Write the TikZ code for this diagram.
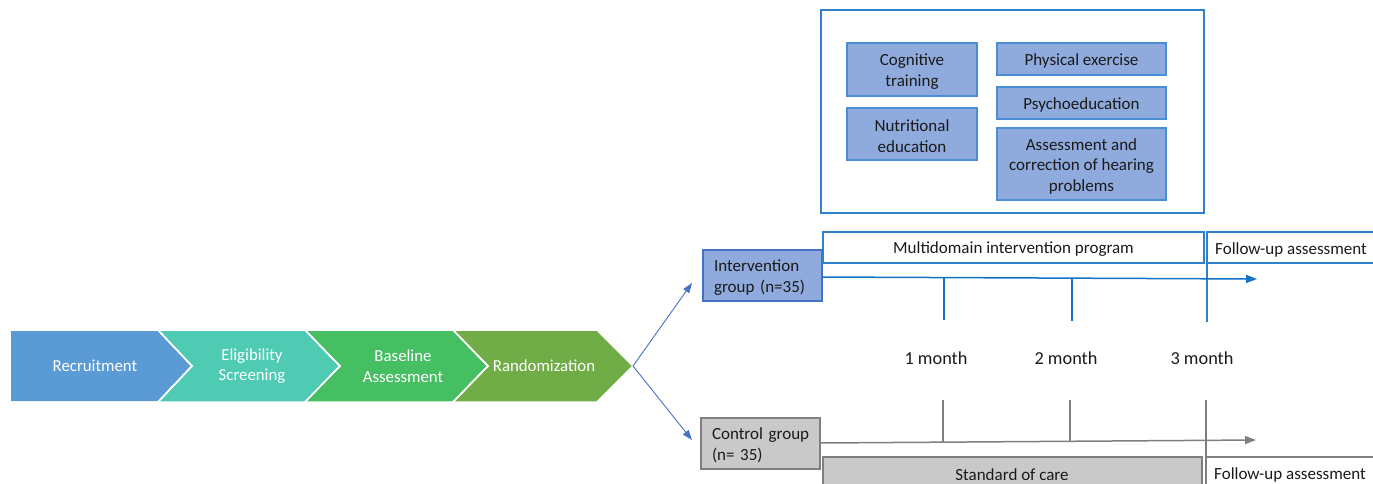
\documentclass[tikz,border=0pt]{standalone}
\usepackage{fontspec}
\setmainfont{Carlito}
\usetikzlibrary{arrows.meta,calc}
\definecolor{cRec}{HTML}{5B9BD5}
\definecolor{cElig}{HTML}{4FCBB4}
\definecolor{cBase}{HTML}{46BE62}
\definecolor{cRand}{HTML}{70AD47}
\definecolor{cBoxFill}{HTML}{8FAADC}
\definecolor{cBoxLine}{HTML}{4A8FD6}
\definecolor{cFrame}{HTML}{2E80C8}
\definecolor{cTime}{HTML}{1273C6}
\definecolor{cArr}{HTML}{4472C4}
\definecolor{cGrayFill}{HTML}{C9C9C9}
\definecolor{cGrayLine}{HTML}{7F7F7F}
\definecolor{cText}{HTML}{1A1A1A}
\tikzset{
  txt/.style={font=\fontsize{17}{20.5}\selectfont, text=cText},
  dn/.style={yshift=-2pt},
  chev/.style={draw=white, line width=1.5pt, line join=miter},
  chevtxt/.style={font=\fontsize{16.8}{20.5}\selectfont, text=white, align=center},
  compbox/.style={txt, draw=cBoxLine, fill=cBoxFill, line width=1.5pt, align=center, inner sep=0pt},
  groupbox/.style={line width=1.5pt, inner sep=0pt, minimum width=119pt, minimum height=51pt},
  grouptxt/.style={txt, align=left, inner sep=0pt, text width=104pt, xshift=3.5pt, yshift=-2pt},
  bluebox/.style={txt, draw=cFrame, fill=white, line width=1.3pt, inner sep=0pt},
  tl/.style={line width=1.5pt},
  split/.style={draw=cArr, line width=0.9pt, -{Triangle[length=10pt,width=7pt]}},
  month/.style={font=\fontsize{18.3}{22}\selectfont, text=cText}
}
\begin{document}
\begin{tikzpicture}[x=1pt,y=-1pt]
\useasboundingbox (0,0) rectangle (1373,483);
\clip (0,0) rectangle (1373,483);
% chevrons
\fill[chev, fill=cRec] (10,330) -- (158,330) -- (192,366) -- (158,402) -- (10,402) -- cycle;
\fill[chev, fill=cElig] (158,330) -- (305,330) -- (340,366) -- (305,402) -- (158,402) -- (192,366) -- cycle;
\fill[chev, fill=cBase] (305,330) -- (453,330) -- (488,366) -- (453,402) -- (305,402) -- (340,366) -- cycle;
\fill[chev, fill=cRand] (453,330) -- (597,330) -- (633,366) -- (597,402) -- (453,402) -- (488,366) -- cycle;
\draw[chev] (10,330) -- (158,330) -- (192,366) -- (158,402) -- (10,402);
\draw[chev] (305,330) -- (340,366) -- (305,402);
\draw[chev] (453,330) -- (488,366) -- (453,402);
\node[chevtxt] (rec) at (95,366) {Recruitment};
\node[chevtxt] (elig) at (252,366) {Eligibility\\Screening};
\node[chevtxt] (base) at (403,366) {Baseline\\Assessment};
\node[chevtxt] (rand) at (544,366) {Randomization};
\coordinate (rtip) at (633,366);

% top frame with components
\draw[draw=cFrame, line width=1.6pt] (821,10) rectangle (1204,213);
\node[compbox, minimum width=130pt, minimum height=53pt] (cog) at (912,69.5) {};
\node[txt, align=center, dn] at (cog) {Cognitive\\training};
\node[compbox, minimum width=130pt, minimum height=52pt] (nut) at (912,134) {};
\node[txt, align=center, dn] at (nut) {Nutritional\\education};
\node[compbox, minimum width=169pt, minimum height=32pt] (phys) at (1081.5,59) {};
\node[txt, dn] at (phys) {Physical exercise};
\node[compbox, minimum width=169pt, minimum height=32pt] (psy) at (1081.5,103) {};
\node[txt, dn] at (psy) {Psychoeducation};
\node[compbox, minimum width=169pt, minimum height=72pt] (hear) at (1081.5,164) {};
\node[txt, align=center, dn] at (hear) {Assessment and\\correction of hearing\\problems};

% groups
\node[groupbox, draw=cArr, fill=cBoxFill] (int) at (762.5,275.5) {};
\node[grouptxt] at (int) {Intervention\\group (n=35)};
\node[groupbox, draw=cGrayLine, fill=cGrayFill] (ctrl) at (760.5,443.5) {};
\node[grouptxt] at (ctrl) {Control group\\(n= 35)};
\coordinate (intIn) at (692,283);
\coordinate (ctrlIn) at (692,440);
\draw[split] (rtip) -- (intIn);
\draw[split] (rtip) -- (ctrlIn);

% intervention timeline
\node[bluebox, minimum width=381pt, minimum height=31pt] (multi) at (1013.5,247.5) {};
\node[txt, dn] at (multi) {Multidomain intervention program};
\draw[draw=cFrame, line width=1.3pt] (1380,232) -- (1207,232) -- (1207,322);
\draw[draw=cFrame, line width=1.3pt] (1207,263) -- (1380,263);
\node[txt, anchor=west, inner sep=0pt, dn] (fu1) at (1215,248) {Follow-up assessment};
\coordinate (tA) at (822,277);
\coordinate (tB) at (1257,279);
\draw[tl, draw=cTime, -{Triangle[length=11pt,width=8pt]}] (tA) -- (tB);
\draw[draw=cTime, line width=1.2pt] (944,277.5) -- (944,320);
\draw[draw=cTime, line width=1.2pt] (1072,278) -- (1072,321);

% months
\node[month] (m1) at (936,358) {1 month};
\node[month] (m2) at (1066,358) {2 month};
\node[month] (m3) at (1202,358) {3 month};

% control timeline
\draw[draw=cGrayLine, fill=cGrayFill, line width=1.3pt] (823,457) rectangle (1202,495);
\node[txt, dn] (soct) at (1012,473) {Standard of care};
\draw[draw=cGrayLine, line width=1.2pt] (1207,457) -- (1380,457);
\node[txt, anchor=west, inner sep=0pt, dn] (fu2) at (1214,473) {Follow-up assessment};
\coordinate (gA) at (820,443);
\coordinate (gB) at (1256,440);
\draw[tl, draw=cGrayLine, -{Triangle[length=11pt,width=8pt]}] (gA) -- (gB);
\draw[draw=cGrayLine, line width=1.1pt] (943,400) -- (943,442);
\draw[draw=cGrayLine, line width=1.1pt] (1070,400) -- (1070,441);
\draw[draw=cGrayLine, line width=1.1pt] (1206,400) -- (1206,490);
\end{tikzpicture}
\end{document}
